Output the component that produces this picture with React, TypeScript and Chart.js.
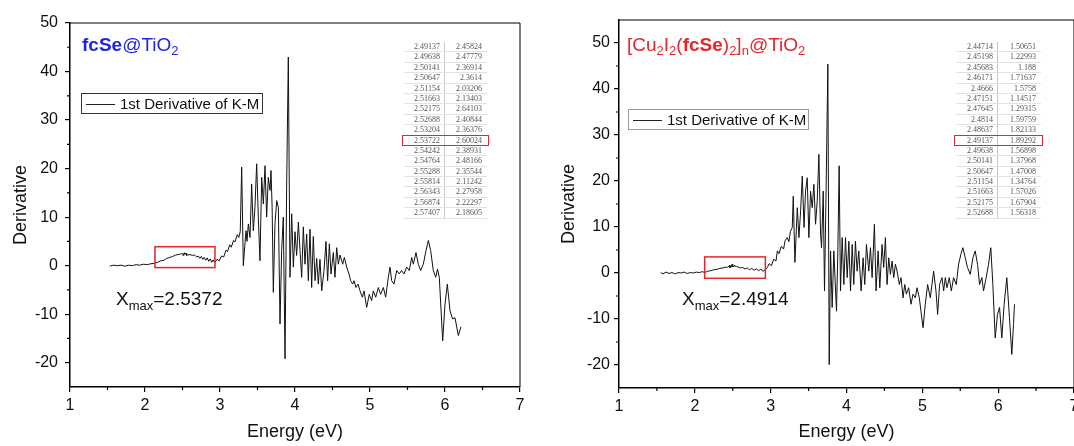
import React, { useEffect, useRef } from "react";
import { Chart, registerables } from "chart.js";

Chart.register(...registerables);

const FONT = "'Liberation Sans', Arial, sans-serif";
const RED = "#e5262b";
const BLUE = "#1f26e0";

// ---- axis ticks ----
const xTickValues = [1, 2, 3, 4, 5, 6, 7];
const xMinorValues = [1.5, 2.5, 3.5, 4.5, 5.5, 6.5];
const yTickValues = [-20, -10, 0, 10, 20, 30, 40, 50];
const yMinorValues = [-15, -5, 5, 15, 25, 35, 45];

// ---- left panel: fcSe@TiO2, 1st derivative of K-M ----
const leftEnergy = [
  1.53, 1.58, 1.63, 1.68, 1.73, 1.78, 1.83, 1.88, 1.93, 1.98, 2.03, 2.08, 2.13,
  2.17, 2.21, 2.25, 2.29, 2.33, 2.37, 2.41, 2.45, 2.47,
  2.6, 2.63, 2.66, 2.69, 2.71, 2.73, 2.75, 2.77, 2.79, 2.81, 2.83, 2.85, 2.87, 2.89, 2.91, 2.93,
  2.96, 2.99, 3.02, 3.05, 3.08, 3.1, 3.13, 3.15, 3.18, 3.2, 3.23, 3.25, 3.27,
  3.289, 3.311, 3.33, 3.347, 3.36, 3.378, 3.4, 3.422, 3.444, 3.466, 3.489, 3.511, 3.533, 3.556,
  3.578, 3.6, 3.622, 3.644, 3.667, 3.68, 3.695, 3.711, 3.733, 3.756, 3.778, 3.8, 3.822, 3.844,
  3.867, 3.889, 3.911, 3.933, 3.956, 3.978, 4.0, 4.022, 4.045,
  4.067, 4.089, 4.111, 4.133, 4.156, 4.178, 4.2, 4.222, 4.244, 4.267, 4.289, 4.311, 4.333, 4.356,
  4.387, 4.413, 4.435, 4.458, 4.48, 4.511, 4.533, 4.556, 4.578, 4.6, 4.636, 4.658, 4.689, 4.72,
  4.742, 4.769, 4.787, 4.813, 4.84, 4.867, 4.898, 4.92, 4.956, 4.99, 5.022, 5.044, 5.076, 5.111,
  5.142, 5.178, 5.209, 5.244, 5.267, 5.289, 5.32, 5.356, 5.391, 5.42, 5.453, 5.489, 5.524, 5.556,
  5.578, 5.613, 5.644, 5.676, 5.711, 5.747, 5.778, 5.809, 5.844, 5.876, 5.9, 5.924, 5.969, 6.0,
  6.031, 6.067, 6.102, 6.133, 6.178, 6.213,
];
const leftDeriv = [
  -0.1, 0.1, 0.0, 0.1, -0.1, 0.1, 0.0, 0.2, 0.1, 0.3, 0.2, 0.4, 0.5,
  0.7, 1.0, 1.1, 1.5, 1.7, 1.9, 2.2, 2.3, 2.4,
  2.3, 2.1, 2.2, 1.8, 2.0, 1.5, 1.9, 1.3, 1.7, 1.1, 1.6, 0.9, 1.4, 0.7, 1.2, 0.6,
  1.3, 1.0, 2.0, 1.8, 3.2, 2.9, 4.3, 3.8, 5.2, 4.9, 6.4, 5.8, 7.0,
  20.3, 0.0, 4.0, 7.2, 5.0, 8.6, 5.8, 16.8, 7.2, 12.0, 21.0, 10.0, 1.0, 18.2,
  12.7, 20.6, 10.0, 18.2, 15.5, 19.6, 12.0, -5.5, 8.6, 13.4, 12.0, -12.0, 3.1, 10.0,
  -19.2, 16.8, 43.0, -2.4, 10.7, -0.3, 7.0, 2.1, 9.0,
  3.1, -2.4, 8.0, 0.3, 6.5, -3.1, 7.5, -4.5, 6.0, -3.1, 1.5, -3.8, 1.3, -5.2,
  -1.0, 5.0, -3.1, 4.5, -1.7, 2.7, -2.4, 3.7, 0.3, 2.2, 0.3, 1.7, -0.3, -1.7,
  -3.1, -3.8, -3.1, -4.5, -3.8, -5.2, -6.5, -5.2, -8.6, -5.9, -7.2, -5.2, -6.5, -4.5,
  -5.9, -4.5, -6.5, -2.4, -0.3, -3.1, -3.8, -1.0, -1.7, -1.0, -1.7, -0.3, -1.0, 1.7,
  0.3, 2.7, 0.3, -1.0, 0.3, 3.1, 5.2, 3.1, -1.0, -2.4, -0.7, -2.4, -15.5, -7.9,
  -3.8, -9.3, -11.0, -10.7, -14.4, -12.6,
];
const leftTableEnergy = [
  2.49137, 2.49638, 2.50141, 2.50647, 2.51154, 2.51663, 2.52175, 2.52688, 2.53204,
  2.53722, 2.54242, 2.54764, 2.55288, 2.55814, 2.56343, 2.56874, 2.57407,
];
const leftTableDeriv = [
  2.45824, 2.47779, 2.36914, 2.3614, 2.03206, 2.13403, 2.64103, 2.40844, 2.36376,
  2.60024, 2.38931, 2.48166, 2.35544, 2.11242, 2.27958, 2.22297, 2.18605,
];

// ---- right panel: [Cu2I2(fcSe)2]n@TiO2 ----
const rightEnergy = [
  1.55, 1.58, 1.62, 1.66, 1.7, 1.74, 1.78, 1.82, 1.86, 1.9, 1.94, 1.98, 2.02, 2.06, 2.1, 2.13,
  2.17, 2.21, 2.25, 2.29, 2.33, 2.37, 2.41, 2.43,
  2.55, 2.57, 2.6, 2.63, 2.66, 2.69, 2.72, 2.75, 2.78, 2.81, 2.84, 2.87, 2.9, 2.93,
  2.956, 2.98, 3.01, 3.04, 3.07, 3.088, 3.11, 3.14, 3.17, 3.19, 3.219, 3.24, 3.26, 3.285,
  3.298, 3.32, 3.351, 3.373, 3.395, 3.417, 3.44, 3.46, 3.482, 3.504, 3.526, 3.548, 3.57,
  3.592, 3.614, 3.636, 3.658, 3.671, 3.693, 3.71, 3.732, 3.754, 3.772, 3.79, 3.811, 3.833,
  3.868, 3.886, 3.903, 3.921, 3.943, 3.965, 3.987, 4.009, 4.031, 4.053, 4.075, 4.096, 4.118,
  4.14, 4.162, 4.193, 4.219, 4.241, 4.263, 4.294, 4.316, 4.338, 4.368, 4.39, 4.417, 4.439,
  4.469, 4.491, 4.513, 4.535, 4.557, 4.579, 4.601, 4.623, 4.645, 4.667, 4.697, 4.719, 4.746,
  4.768, 4.79, 4.82, 4.851, 4.877, 4.908, 4.93, 4.96, 4.982, 5.009, 5.039, 5.07, 5.105, 5.149,
  5.18, 5.202, 5.228, 5.259, 5.281, 5.303, 5.325, 5.355, 5.382, 5.412, 5.447, 5.478, 5.509,
  5.535, 5.566, 5.596, 5.632, 5.667, 5.697, 5.728, 5.755, 5.785, 5.807, 5.842, 5.873, 5.903,
  5.93, 5.961, 5.991, 6.018, 6.048, 6.079, 6.114, 6.149, 6.18, 6.202, 6.215,
];
const rightDeriv = [
  0.1, -0.2, 0.2, -0.1, 0.1, -0.2, 0.1, 0.0, 0.2, -0.1, 0.1, 0.0, 0.2, 0.1, 0.3, 0.1,
  0.4, 0.5, 0.7, 0.8, 1.0, 1.1, 1.3, 1.2,
  1.4, 1.3, 1.1, 1.2, 0.9, 1.1, 0.7, 1.0, 0.6, 0.9, 0.5, 0.8, 0.4, 0.7,
  1.2, 2.0, 1.6, 3.0, 2.6, 4.8, 4.2, 5.8, 5.2, 7.0, 7.7, 6.8, 9.0, 9.9,
  16.7, 2.3, 14.2, 7.7, 13.5, 21.1, 9.9, 17.8, 20.7, 7.7, 17.8, 14.2, 19.3,
  10.6, 15.7, 25.8, 8.4, 5.5, 17.8, -3.9, 19.3, 45.4, -19.9, 4.8, -7.5, 4.8,
  -8.3, 4.8, 23.3, -3.9, 7.7, -2.5, 7.7, -1.0, 6.9, -3.9, 6.2, -2.5, 6.9,
  0.4, 4.8, -3.9, 3.3, -2.5, 6.2, 0.4, 5.5, -1.0, 10.6, -3.9, 4.8, -3.2,
  6.2, 1.2, 7.7, -2.5, 3.3, -0.3, 2.6, -1.0, 1.9, 0.4, -2.5, -1.0, -5.4,
  -2.5, -4.6, -3.2, -6.8, -4.6, -5.4, -3.2, -5.4, -8.3, -11.9, -6.8, -2.5, -5.4, 0.4,
  -3.9, -9.0, -2.5, -1.0, -3.9, -1.0, -3.2, -1.0, -3.9, -1.0, -2.5, 1.9, 4.1,
  5.5, 3.3, 1.2, -0.3, 3.3, 4.8, 1.9, -2.5, -1.0, -3.9, -1.0, 1.9, 5.5,
  -2.5, -14.1, -9.0, -7.5, -14.1, -6.8, -1.0, -9.7, -17.7, -11.2, -6.8,
];
const rightTableEnergy = [
  2.44714, 2.45198, 2.45683, 2.46171, 2.4666, 2.47151, 2.47645, 2.4814, 2.48637,
  2.49137, 2.49638, 2.50141, 2.50647, 2.51154, 2.51663, 2.52175, 2.52688,
];
const rightTableDeriv = [
  1.50651, 1.22993, 1.188, 1.71637, 1.5758, 1.14517, 1.29315, 1.59759, 1.82133,
  1.89292, 1.56898, 1.37968, 1.47008, 1.34764, 1.57026, 1.67904, 1.56318,
];

// highlighted rows and marked regions [E0, E1, D0, D1]
const leftHighlightRow = 9;
const rightHighlightRow = 9;
const leftMaxLabel = "2.5372";
const rightMaxLabel = "2.4914";
const leftBox = [2.133, 2.933, -0.4, 3.9];
const rightBox = [2.13, 2.93, -1.15, 3.5];

function mergePoints(e: number[], d: number[], te: number[], td: number[]) {
  const pts = e.map((x, i) => ({ x, y: d[i] }));
  te.forEach((x, i) => pts.push({ x, y: td[i] }));
  pts.sort((a, b) => a.x - b.x);
  return pts;
}

const decorPlugin = {
  id: "decor",
  afterDraw(chart: any, _args: any, opts: any) {
    const { ctx, chartArea: a, scales } = chart;
    const x = scales.x;
    const y = scales.y;
    ctx.save();
    ctx.strokeStyle = "#000";
    ctx.lineWidth = 1;
    ctx.beginPath();
    ctx.moveTo(a.left, a.top);
    ctx.lineTo(a.right, a.top);
    ctx.lineTo(a.right, a.bottom);
    ctx.stroke();
    ctx.lineWidth = 1.2;
    ctx.beginPath();
    for (const v of xMinorValues) {
      const px = x.getPixelForValue(v);
      ctx.moveTo(px, a.bottom);
      ctx.lineTo(px, a.bottom + 3);
    }
    for (const v of yMinorValues) {
      const py = y.getPixelForValue(v);
      ctx.moveTo(a.left, py);
      ctx.lineTo(a.left - 3, py);
    }
    ctx.stroke();
    const [e0, e1, d0, d1] = opts.box;
    const bx0 = x.getPixelForValue(e0);
    const bx1 = x.getPixelForValue(e1);
    const by0 = y.getPixelForValue(d1);
    const by1 = y.getPixelForValue(d0);
    ctx.strokeStyle = RED;
    ctx.lineWidth = 1.5;
    ctx.strokeRect(bx0, by0, bx1 - bx0, by1 - by0);
    ctx.restore();
  },
};

function makeConfig(points: any[], p: any) {
  return {
    type: "line",
    data: {
      datasets: [
        {
          data: points,
          borderColor: "#111",
          borderWidth: 1,
          pointRadius: 0,
          tension: 0,
          fill: false,
        },
      ],
    },
    options: {
      animation: false,
      responsive: false,
      maintainAspectRatio: false,
      layout: { padding: { left: 0, right: p.padRight, top: p.padTop, bottom: 0 } },
      plugins: {
        legend: { display: false },
        tooltip: { enabled: false },
        decor: { box: p.box },
      },
      scales: {
        x: {
          type: "linear",
          min: 1,
          max: 7,
          afterBuildTicks: (s: any) => {
            s.ticks = xTickValues.map((v) => ({ value: v }));
          },
          afterFit: (s: any) => {
            s.height = p.xHeight;
            s.paddingLeft = 0;
            s.paddingRight = 0;
          },
          grid: { drawOnChartArea: false, drawTicks: true, tickLength: 5, color: "#000", lineWidth: 1.2 },
          border: { display: true, color: "#000", width: 1.5 },
          ticks: { color: "#111", font: { family: FONT, size: 16 }, padding: 4, maxRotation: 0, autoSkip: false },
          title: { display: true, text: "Energy (eV)", color: "#111", font: { family: FONT, size: 18 }, padding: { top: 0, bottom: 3 } },
        },
        y: {
          type: "linear",
          min: p.yMin,
          max: p.yMax,
          afterBuildTicks: (s: any) => {
            s.ticks = yTickValues.map((v) => ({ value: v }));
          },
          afterFit: (s: any) => {
            s.width = p.yWidth;
            s.paddingTop = 0;
            s.paddingBottom = 0;
          },
          grid: { drawOnChartArea: false, drawTicks: true, tickLength: 5, color: "#000", lineWidth: 1.2 },
          border: { display: true, color: "#000", width: 1.5 },
          ticks: { color: "#111", font: { family: FONT, size: 16 }, padding: p.yTickPad, autoSkip: false },
          title: { display: true, text: "Derivative", color: "#111", font: { family: FONT, size: 18 }, padding: { top: p.yTitlePad, bottom: 0 } },
        },
      },
    },
    plugins: [decorPlugin],
  };
}

function ValueTable(props: { left: number; top: number; energies: number[]; derivs: number[]; hi: number; w1: number; w2: number }) {
  const rowH = 10.4;
  return (
    <div style={{ position: "absolute", left: props.left, top: props.top, fontFamily: "'Liberation Serif', 'DejaVu Serif', serif", fontSize: 8, color: "#555" }}>
      {props.energies.map((e, i) => (
        <div key={i} style={{ display: "flex", height: rowH, lineHeight: rowH + "px", borderBottom: "1px solid #e2e2e2", boxSizing: "border-box" }}>
          <div style={{ width: props.w1, textAlign: "right", paddingRight: 4, boxSizing: "border-box", borderRight: "1px solid #c8c8c8" }}>{e}</div>
          <div style={{ width: props.w2, textAlign: "right", paddingRight: 5, boxSizing: "border-box" }}>{props.derivs[i]}</div>
        </div>
      ))}
      <div style={{ position: "absolute", left: -2, top: props.hi * rowH - 1, width: props.w1 + props.w2 + 4, height: rowH + 1, border: "1.5px solid " + RED, boxSizing: "border-box" }} />
    </div>
  );
}

function Legend(props: { left: number; top: number; width: number; height: number; border: string; textLeft: number }) {
  return (
    <div style={{ position: "absolute", left: props.left, top: props.top, width: props.width, height: props.height, border: "1px solid " + props.border, boxSizing: "border-box", fontFamily: FONT, fontSize: 15, color: "#111", background: "#fff" }}>
      <div style={{ position: "absolute", left: 4, top: props.height / 2 - 1, width: props.textLeft - 9, borderTop: "1px solid #222" }} />
      <div style={{ position: "absolute", left: props.textLeft, top: 0, lineHeight: props.height - 2 + "px", whiteSpace: "nowrap" }}>1st Derivative of K-M</div>
    </div>
  );
}

function Sub(props: { children: any; size?: number; drop?: number }) {
  return <span style={{ fontSize: props.size || 13, position: "relative", top: props.drop || 4 }}>{props.children}</span>;
}

function XMax(props: { left: number; top: number; value: string }) {
  return (
    <div style={{ position: "absolute", left: props.left, top: props.top, fontFamily: FONT, fontSize: 19, lineHeight: "19px", color: "#111", whiteSpace: "nowrap" }}>
      X<Sub size={13} drop={5}>max</Sub>={props.value}
    </div>
  );
}

export default function App() {
  const leftRef = useRef<HTMLCanvasElement>(null);
  const rightRef = useRef<HTMLCanvasElement>(null);

  useEffect(() => {
    const leftPts = mergePoints(leftEnergy, leftDeriv, leftTableEnergy, leftTableDeriv);
    const rightPts = mergePoints(rightEnergy, rightDeriv, rightTableEnergy, rightTableDeriv);
    const c1 = new Chart(leftRef.current as any, makeConfig(leftPts, {
      padRight: 20, padTop: 23, xHeight: 59, yWidth: 70, yMin: -25, yMax: 50, yTickPad: 7, yTitlePad: 10, box: leftBox,
    }) as any);
    const c2 = new Chart(rightRef.current as any, makeConfig(rightPts, {
      padRight: 0, padTop: 20, xHeight: 58, yWidth: 79, yMin: -25, yMax: 55, yTickPad: 4, yTitlePad: 18, box: rightBox,
    }) as any);
    return () => {
      c1.destroy();
      c2.destroy();
    };
  }, []);

  return (
    <div style={{ position: "absolute", left: 0, top: 0, width: 1074, height: 446, background: "#fff", overflow: "hidden" }}>
      <canvas ref={leftRef} width={540} height={446} style={{ position: "absolute", left: 0, top: 0, width: 540, height: 446 }} />
      <canvas ref={rightRef} width={534} height={446} style={{ position: "absolute", left: 540, top: 0, width: 534, height: 446 }} />

      <div style={{ position: "absolute", left: 82, top: 35, fontFamily: FONT, fontSize: 19, lineHeight: "19px", color: BLUE, whiteSpace: "nowrap" }}>
        <b>fcSe</b>@TiO<Sub>2</Sub>
      </div>
      <div style={{ position: "absolute", left: 627, top: 35, fontFamily: FONT, fontSize: 19, lineHeight: "19px", color: RED, whiteSpace: "nowrap" }}>
        [Cu<Sub>2</Sub>I<Sub>2</Sub>(<b>fcSe</b>)<Sub>2</Sub>]<Sub>n</Sub>@TiO<Sub>2</Sub>
      </div>

      <Legend left={81} top={93} width={182} height={21} border="#333" textLeft={38} />
      <Legend left={628} top={109} width={181} height={21} border="#999" textLeft={38} />

      <XMax left={116} top={289} value={leftMaxLabel} />
      <XMax left={682} top={289} value={rightMaxLabel} />

      <ValueTable left={404} top={42} energies={leftTableEnergy} derivs={leftTableDeriv} hi={leftHighlightRow} w1={41} w2={42} />
      <ValueTable left={956} top={42} energies={rightTableEnergy} derivs={rightTableDeriv} hi={rightHighlightRow} w1={42} w2={43} />
    </div>
  );
}
